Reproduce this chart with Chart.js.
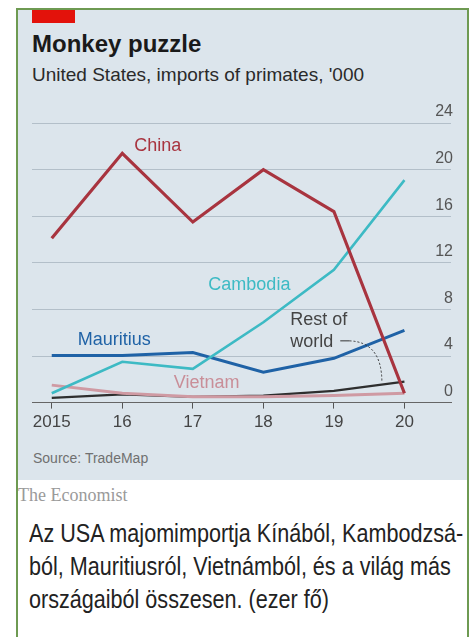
<!DOCTYPE html>
<html>
<head>
<meta charset="utf-8">
<script src="https://cdn.jsdelivr.net/npm/chart.js@4"></script>
<style>
  body { margin:0; width:476px; height:637px; overflow:hidden; position:relative; background:#fff; font-family:"Liberation Sans", Arial, sans-serif; }
  .abs { position:absolute; white-space:nowrap; }
  #panel { left:17px; top:9px; width:450px; height:471px; background:#dce5ec; }
  #frame { left:16px; top:8px; width:449px; height:660px; border:2px solid #6e9a52; border-bottom:none; }
  #tag { left:32px; top:10px; width:43px; height:13px; background:#e3120b; }
  #title { left:32px; top:30px; font-weight:bold; font-size:24px; color:#1a1a1a; }
  #sub { left:32px; top:64px; font-size:19px; color:#2a2a2a; }
  #source { left:33px; top:450px; font-size:14px; color:#707070; }
  #brand { left:18px; top:485px; font-family:"Liberation Serif", serif; font-size:18px; color:#9a9a9a; }
  #note { left:29px; top:517px; font-size:26px; line-height:33px; color:#222; transform:scaleX(0.83); transform-origin:0 0; }
  canvas { position:absolute; left:0; top:95px; }
</style>
</head>
<body>
<div class="abs" id="panel"></div>
<div class="abs" id="tag"></div>
<div class="abs" id="title">Monkey puzzle</div>
<div class="abs" id="sub">United States, imports of primates, '000</div>
<canvas id="chart" width="476" height="355"></canvas>
<div class="abs" id="source">Source: TradeMap</div>
<div class="abs" id="brand">The Economist</div>
<div class="abs" id="note">Az USA majomimportja Kínából, Kambodzsá-<br>ból, Mauritiusról, Vietnámból, és a világ más<br>országaiból összesen. (ezer fő)</div>
<div class="abs" id="frame"></div>
<script>
// data, thousands of primates
const years = [2015, 2016, 2017, 2018, 2019, 2020];
const china = [14.1, 21.4, 15.5, 20.0, 16.4, 0.8];
const cambodia = [0.8, 3.5, 2.9, 6.9, 11.4, 19.1];
const mauritius = [4.05, 4.05, 4.3, 2.6, 3.8, 6.2];
const vietnam = [1.5, 0.8, 0.5, 0.5, 0.6, 0.8];
const restOfWorld = [0.4, 0.7, 0.5, 0.6, 1.0, 1.8];
const yTicks = [0, 4, 8, 12, 16, 20, 24];

const pts = arr => arr.map((v, i) => ({ x: years[i], y: v }));

// series labels, placed in data units
const seriesLabels = [
  { text: 'China', x: 2016.17, y: 22.0, color: '#a8343f' },
  { text: 'Cambodia', x: 2017.22, y: 10.06, color: '#3dbac4' },
  { text: 'Mauritius', x: 2015.37, y: 5.33, color: '#1f62a6' },
  { text: 'Vietnam', x: 2016.73, y: 1.69, color: '#c98e98' },
  { text: 'Rest of', x: 2018.38, y: 7.1, color: '#444' },
  { text: 'world', x: 2018.38, y: 5.24, color: '#444' }
];

const labelPlugin = {
  id: 'labels',
  afterDatasetsDraw(chart) {
    const { ctx, scales: { x, y } } = chart;
    ctx.save();
    ctx.font = '18px "Liberation Sans", Arial, sans-serif';
    ctx.textBaseline = 'middle';
    ctx.textAlign = 'left';
    seriesLabels.forEach(l => {
      ctx.fillStyle = l.color;
      ctx.fillText(l.text, x.getPixelForValue(l.x), y.getPixelForValue(l.y));
    });
    // leader from "world" to the rest-of-world line
    ctx.strokeStyle = '#333';
    ctx.lineWidth = 1;
    ctx.beginPath();
    ctx.moveTo(x.getPixelForValue(2019.09), y.getPixelForValue(5.3));
    ctx.lineTo(x.getPixelForValue(2019.22), y.getPixelForValue(5.3));
    ctx.stroke();
    ctx.setLineDash([2, 2]);
    ctx.beginPath();
    ctx.moveTo(x.getPixelForValue(2019.22), y.getPixelForValue(5.3));
    ctx.quadraticCurveTo(x.getPixelForValue(2019.68), y.getPixelForValue(5.2),
                         x.getPixelForValue(2019.68), y.getPixelForValue(1.75));
    ctx.stroke();
    ctx.restore();
  }
};

new Chart(document.getElementById('chart'), {
  type: 'line',
  data: {
    datasets: [
      { label: 'China', data: pts(china), borderColor: '#a8343f', borderWidth: 3.2, borderJoinStyle: 'miter' },
      { label: 'Cambodia', data: pts(cambodia), borderColor: '#3dbac4', borderWidth: 2.6 },
      { label: 'Mauritius', data: pts(mauritius), borderColor: '#1f62a6', borderWidth: 3 },
      { label: 'Vietnam', data: pts(vietnam), borderColor: '#cf9aa3', borderWidth: 3 },
      { label: 'Rest of world', data: pts(restOfWorld), borderColor: '#2e2e2e', borderWidth: 2.2 }
    ]
  },
  options: {
    responsive: false,
    animation: false,
    devicePixelRatio: 1,
    elements: { point: { radius: 0 }, line: { tension: 0 } },
    layout: { padding: { left: 32, right: 21, top: 28, bottom: 13 } },
    plugins: { legend: { display: false }, tooltip: { enabled: false } },
    scales: {
      x: {
        type: 'linear',
        min: 2014.72,
        max: 2020.66,
        grid: { drawOnChartArea: false, drawTicks: true, tickLength: 6, color: '#555' },
        border: { display: true, color: '#666', width: 1 },
        ticks: {
          stepSize: 1,
          includeBounds: false,
          autoSkip: false,
          maxRotation: 0,
          padding: 4,
          color: '#444',
          font: { size: 17, family: '"Liberation Sans", Arial, sans-serif' },
          callback: v => (v === years[0] ? String(v) : String(v).slice(2))
        }
      },
      y: {
        position: 'right',
        min: 0,
        max: 24,
        afterBuildTicks: s => { s.ticks = yTicks.map(v => ({ value: v })); },
        grid: {
          drawTicks: false,
          color: c => (c.tick && c.tick.value === 0 ? 'rgba(0,0,0,0)' : '#b3bfc9'),
          lineWidth: 1
        },
        border: { display: false },
        ticks: {
          mirror: true,
          padding: 2,
          labelOffset: -11,
          color: '#555',
          font: { size: 16, family: '"Liberation Sans", Arial, sans-serif' }
        }
      }
    }
  },
  plugins: [labelPlugin]
});
</script>
</body>
</html>
